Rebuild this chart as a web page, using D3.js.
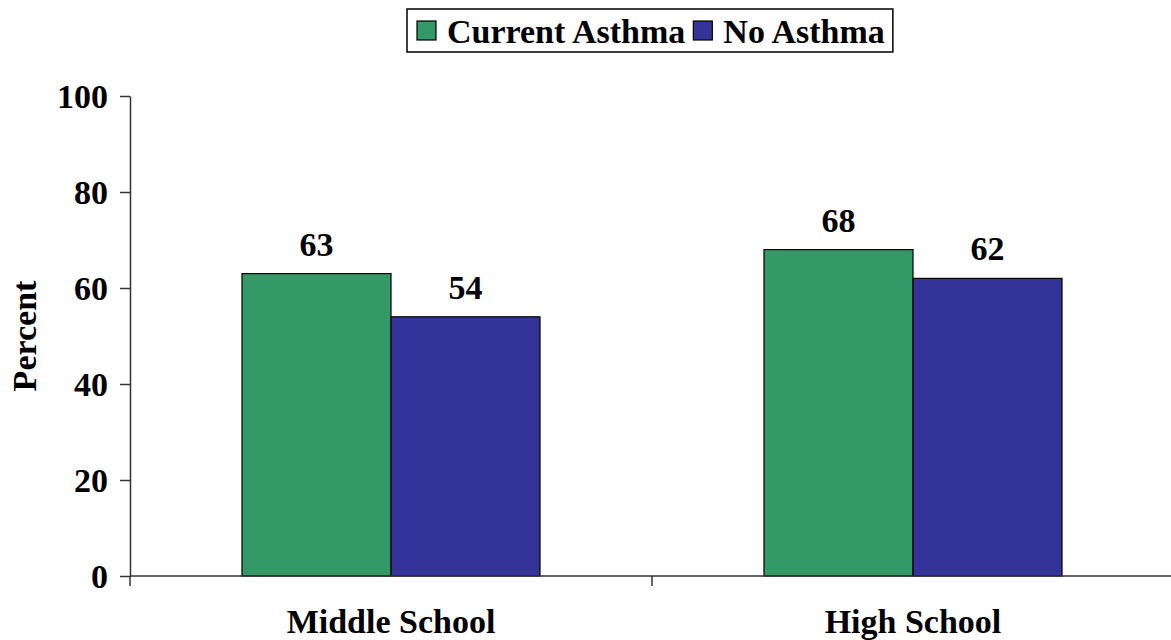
<!DOCTYPE html>
<html><head><meta charset="utf-8">
<script src="https://cdn.jsdelivr.net/npm/d3@7"></script>
<style>body{margin:0;background:#fff}svg{display:block}text{font-family:"Liberation Serif","Times New Roman",serif;font-weight:bold;fill:#000}</style>
</head><body><svg id="c" width="1171" height="640"></svg>
<script>
const categories = ["Middle School", "High School"];
const seriesNames = ["Current Asthma", "No Asthma"];
const currentAsthma = [63, 68];
const noAsthma = [54, 62];
const yTicks = [0, 20, 40, 60, 80, 100];
const colors = ["#339966", "#333399"];

const svg = d3.select("#c");
const fs = 34;
const x0 = d3.scaleBand().domain(categories).range([130, 1174]).padding(0);
const x1 = d3.scaleBand().domain(seriesNames).range([-149, 149]).padding(0);
const y = d3.scaleLinear().domain([0, 100]).range([576, 96]);

const data = categories.map((c, i) => ({cat: c, vals: [
  {s: seriesNames[0], v: currentAsthma[i]},
  {s: seriesNames[1], v: noAsthma[i]}]}));

// bars
const g = svg.append("g");
data.forEach(d => {
  const cx = x0(d.cat) + x0.bandwidth() / 2;
  d.vals.forEach((e, j) => {
    g.append("rect").attr("x", cx + x1(e.s)).attr("y", y(e.v))
      .attr("width", x1.bandwidth()).attr("height", y(0) - y(e.v))
      .attr("fill", colors[j]).attr("stroke", "#000").attr("stroke-width", 1.2);
    g.append("text").attr("x", cx + x1(e.s) + x1.bandwidth() / 2).attr("y", y(e.v) - 18)
      .attr("text-anchor", "middle").attr("font-size", fs).text(e.v);
  });
});

// y axis
const ya = svg.append("g").attr("transform", "translate(130,0)")
  .call(d3.axisLeft(y).tickValues(yTicks).tickSize(10).tickSizeOuter(0).tickPadding(12));
ya.select(".domain").attr("stroke", "#333").attr("stroke-width", 1.5);
ya.selectAll(".tick line").attr("stroke", "#333").attr("stroke-width", 1.5);
ya.selectAll(".tick text").attr("font-size", fs).attr("font-family", "Liberation Serif").attr("font-weight", "bold").attr("fill", "#000").attr("dy", "0.35em");

// x axis
const xa = svg.append("g").attr("transform", "translate(0,576)");
xa.append("line").attr("x1", 130).attr("x2", 1174).attr("stroke", "#333").attr("stroke-width", 1.5);
const bounds = [x0.range()[0]].concat(categories.map(c => x0(c) + x0.bandwidth()));
xa.selectAll("line.t").data(bounds).enter().append("line").attr("class", "t")
  .attr("x1", d => d).attr("x2", d => d).attr("y1", 0).attr("y2", 10)
  .attr("stroke", "#333").attr("stroke-width", 1.5);
xa.selectAll("text").data(categories).enter().append("text")
  .attr("x", d => x0(d) + x0.bandwidth() / 2).attr("y", 57)
  .attr("text-anchor", "middle").attr("font-size", fs).text(d => d);

// y title
svg.append("text").attr("transform", "translate(36,336) rotate(-90)")
  .attr("text-anchor", "middle").attr("font-size", fs).text("Percent");

// legend
const lg = svg.append("g");
const box = lg.append("rect").attr("fill", "#fff").attr("stroke", "#000").attr("stroke-width", 1.5);
let lx = 417;
seriesNames.forEach((s, j) => {
  lg.append("rect").attr("x", lx).attr("y", 21).attr("width", 19).attr("height", 19)
    .attr("fill", colors[j]).attr("stroke", "#000").attr("stroke-width", 1.2);
  const t = lg.append("text").attr("x", lx + 30).attr("y", 43).attr("font-size", fs).text(s);
  lx = lx + 30 + t.node().getComputedTextLength() + 8;
});
box.attr("x", 407).attr("y", 9).attr("width", lx - 407).attr("height", 43);
</script></body></html>
